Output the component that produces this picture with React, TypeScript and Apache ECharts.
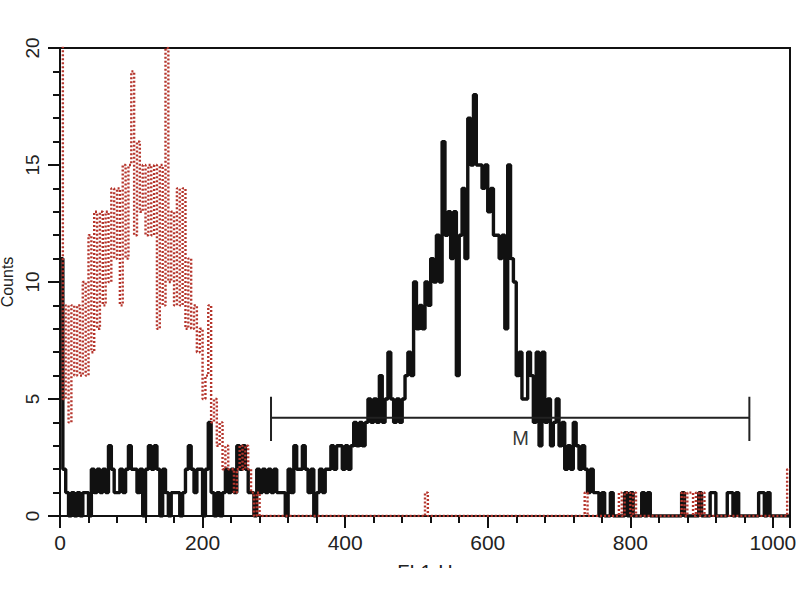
import React, { useEffect, useRef } from "react";
import * as echarts from "echarts";

// Histogram bin width (channels per bin) and channel range
const BIN_WIDTH = 4;
const X_MAX = 1024;

// Sample (black) counts per bin, starting at channel 0
const sampleCounts: number[] = [
  11, 2, 1, 0, 1, 0, 1, 0, 1, 1, 0, 2, 1, 2, 1, 2,
  1, 3, 2, 1, 1, 2, 1, 2, 3, 2, 2, 1, 2, 0, 2, 3,
  2, 3, 2, 0, 2, 1, 0, 1, 1, 1, 0, 1, 2, 3, 2, 1,
  2, 2, 0, 2, 4, 1, 0, 1, 0, 1, 2, 1, 2, 1, 3, 2,
  3, 2, 1, 1, 0, 2, 1, 2, 1, 2, 1, 2, 1, 1, 1, 0,
  2, 1, 3, 2, 2, 3, 2, 1, 2, 0, 1, 2, 1, 2, 2, 3,
  2, 3, 3, 2, 3, 2, 3, 4, 3, 4, 3, 4, 5, 4, 5, 4,
  6, 4, 5, 7, 5, 4, 5, 4, 5, 6, 7, 6, 10, 8, 9, 8,
  10, 9, 11, 10, 12, 10, 16, 12, 13, 11, 13, 6, 12, 14, 11, 17,
  15, 18, 15, 15, 14, 15, 13, 14, 12, 12, 11, 12, 8, 15, 11, 10,
  6, 7, 5, 5, 7, 6, 4, 7, 3, 7, 4, 5, 3, 4, 5, 3,
  4, 2, 3, 2, 4, 3, 2, 3, 2, 1, 2, 1, 1, 0, 1, 0,
  0, 1, 0, 0, 0, 0, 1, 0, 1, 0, 0, 0, 1, 0, 1, 0,
  0, 0, 0, 0, 0, 0, 0, 0, 0, 0, 1, 0, 0, 0, 0, 0,
  1, 0, 0, 0, 1, 1, 0, 0, 0, 0, 1, 1, 0, 1, 0, 0,
  0, 0, 0, 0, 0, 1, 1, 0, 1, 0, 0, 0, 0, 0, 0, 0,
];

// Control (red dotted) counts per bin, starting at channel 0
const controlCounts: number[] = [
  22, 5, 9, 4, 9, 6, 9, 6, 10, 6, 12, 7, 13, 8, 13, 9,
  13, 10, 14, 11, 14, 9, 15, 11, 15, 19, 12, 16, 13, 15, 12, 15,
  12, 15, 8, 15, 9, 20, 10, 13, 9, 14, 9, 14, 8, 11, 8, 9,
  7, 8, 5, 6, 9, 4, 5, 3, 4, 2, 3, 2, 2, 1, 2, 3,
  2, 3, 2, 1, 0, 1, 0, 0, 0, 0, 0, 0, 0, 0, 0, 0,
  0, 0, 0, 0, 0, 0, 0, 0, 0, 0, 0, 0, 0, 0, 0, 0,
  0, 0, 0, 0, 0, 0, 0, 0, 0, 0, 0, 0, 0, 0, 0, 0,
  0, 0, 0, 0, 0, 0, 0, 0, 0, 0, 0, 0, 0, 0, 0, 0,
  1, 0, 0, 0, 0, 0, 0, 0, 0, 0, 0, 0, 0, 0, 0, 0,
  0, 0, 0, 0, 0, 0, 0, 0, 0, 0, 0, 0, 0, 0, 0, 0,
  0, 0, 0, 0, 0, 0, 0, 0, 0, 0, 0, 0, 0, 0, 0, 0,
  0, 0, 0, 0, 0, 0, 0, 0, 1, 0, 0, 0, 0, 0, 0, 0,
  0, 0, 0, 0, 1, 0, 1, 1, 0, 1, 0, 0, 0, 0, 0, 0,
  0, 0, 0, 0, 0, 0, 0, 0, 0, 0, 1, 0, 1, 1, 0, 1,
  0, 1, 0, 0, 0, 0, 0, 0, 0, 0, 0, 0, 0, 0, 0, 0,
  0, 0, 0, 0, 0, 0, 0, 0, 0, 0, 0, 0, 0, 0, 0, 2,
];

// Gate marker "M"
const gateLabel = "M";
const gateRange = [296, 967];
const gateLevel = 4.2;
const gateCap = [3.2, 5.1];
const gateLabelPos = [646, 3.35];

// Axis ticks
const xTicks = [0, 200, 400, 600, 800, 1000];
const yTicks = [0, 5, 10, 15, 20];
const xAxisName = "FL1-H";
const yAxisName = "Counts";

function toSteps(counts: number[]): number[][] {
  const pts = counts.map((v, i) => [i * BIN_WIDTH, v]);
  pts.push([X_MAX, counts[counts.length - 1]]);
  return pts;
}

export default function App() {
  const ref = useRef<HTMLDivElement>(null);
  useEffect(() => {
    if (!ref.current) return;
    const chart = echarts.init(ref.current, null, { renderer: "svg" });
    const font = "'Liberation Sans', Arial, sans-serif";
    const gatePath = [
      [gateRange[0], gateCap[0]],
      [gateRange[0], gateCap[1]],
      [gateRange[0], gateLevel],
      [gateRange[1], gateLevel],
      [gateRange[1], gateCap[1]],
      [gateRange[1], gateCap[0]],
    ];
    chart.setOption({
      animation: false,
      backgroundColor: "#ffffff",
      textStyle: { fontFamily: font },
      grid: {
        left: 60,
        right: 10,
        top: 48,
        bottom: 84,
        containLabel: false,
        outerBoundsMode: "none",
        show: true,
        borderColor: "#111",
        borderWidth: 2,
        backgroundColor: "transparent",
      },
      xAxis: {
        type: "value",
        min: 0,
        max: X_MAX,
        interval: 200,
        name: xAxisName,
        nameLocation: "middle",
        nameGap: 46,
        nameTextStyle: { fontSize: 20, color: "#222", fontFamily: font },
        axisLine: { show: true, onZero: false, lineStyle: { color: "#111", width: 2 } },
        axisTick: { show: true, length: 12, lineStyle: { color: "#111", width: 2 } },
        minorTick: { show: true, splitNumber: 5, length: 7, lineStyle: { color: "#111", width: 2 } },
        axisLabel: {
          fontSize: 21,
          color: "#222",
          margin: 16,
          fontFamily: font,
          customValues: xTicks,
          formatter: (v: number) => String(v),
        },
        splitLine: { show: false },
      },
      yAxis: {
        type: "value",
        min: 0,
        max: 20,
        interval: 5,
        name: yAxisName,
        nameLocation: "middle",
        nameGap: 38,
        nameTextStyle: { fontSize: 16, color: "#222", fontFamily: font },
        axisLine: { show: true, lineStyle: { color: "#111", width: 2 } },
        axisTick: { show: true, length: 12, lineStyle: { color: "#111", width: 2 } },
        minorTick: { show: true, splitNumber: 5, length: 7, lineStyle: { color: "#111", width: 2 } },
        axisLabel: {
          fontSize: 19,
          color: "#222",
          margin: 18,
          rotate: 90,
          fontFamily: font,
          customValues: yTicks,
          formatter: (v: number) => String(v),
        },
        splitLine: { show: false },
      },
      series: [
        {
          type: "line",
          name: "sample",
          step: "end",
          data: toSteps(sampleCounts),
          showSymbol: false,
          symbol: "none",
          lineStyle: { color: "#111", width: 3.4 },
          z: 2,
        },
        {
          type: "line",
          name: "control",
          step: "end",
          data: toSteps(controlCounts),
          showSymbol: false,
          symbol: "none",
          lineStyle: { color: "#b5352c", width: 2.4, type: [2, 2] },
          z: 3,
        },
        {
          type: "line",
          name: "gate",
          data: gatePath,
          showSymbol: false,
          symbol: "none",
          lineStyle: { color: "#222", width: 2 },
          z: 4,
        },
        {
          type: "scatter",
          name: "gateLabel",
          data: [gateLabelPos],
          symbolSize: 0,
          label: {
            show: true,
            position: "inside",
            formatter: gateLabel,
            fontSize: 20,
            color: "#000",
            fontFamily: font,
          },
          z: 5,
        },
      ],
      graphic: [
        {
          type: "rect",
          shape: { x: 0, y: 568, width: 800, height: 32 },
          style: { fill: "#ffffff" },
          z: 100,
        },
      ],
    });
    return () => chart.dispose();
  }, []);
  return (
    <div
      ref={ref}
      style={{ position: "fixed", left: 0, top: 0, width: 800, height: 600, background: "#fff" }}
    />
  );
}
